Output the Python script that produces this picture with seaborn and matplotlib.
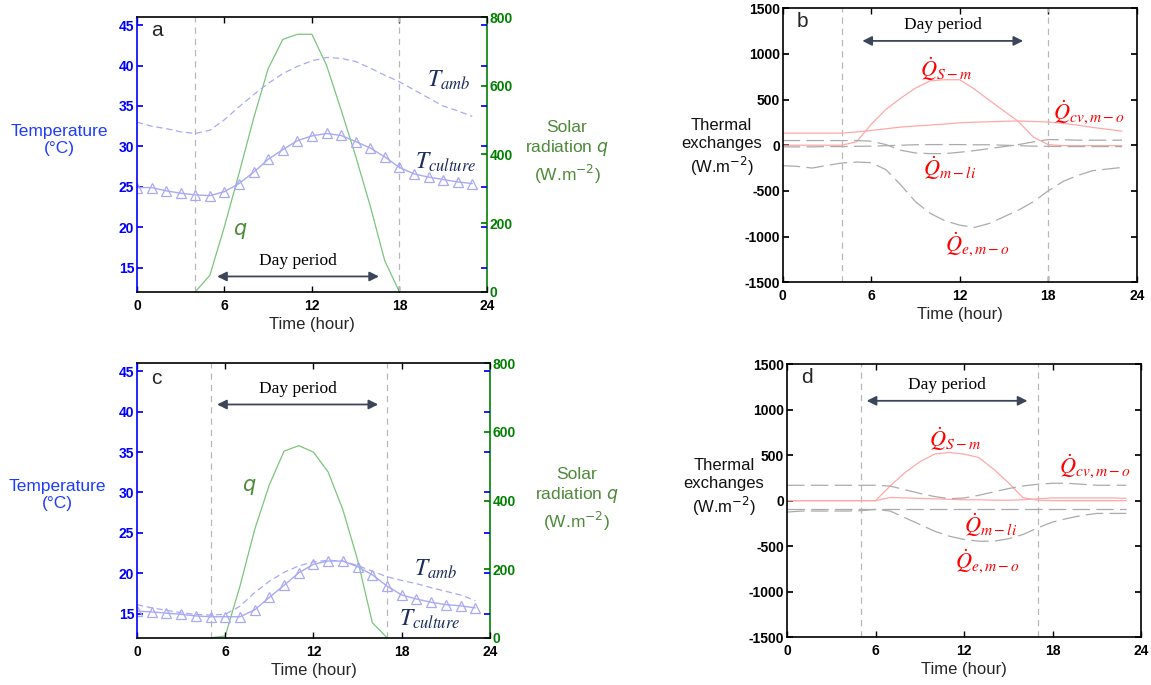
import numpy as np
import pandas as pd
import matplotlib
matplotlib.use("Agg")
import matplotlib.pyplot as plt
import seaborn as sns

# ---------------- data ----------------
hours = list(range(24))

# panel a (summer)
a_T_culture = [24.9, 24.9, 24.5, 24.2, 24.0, 23.9, 24.4, 25.4, 26.8, 28.4, 29.6, 30.7,
               31.3, 31.6, 31.35, 30.6, 29.8, 28.7, 27.4, 26.6, 26.2, 25.9, 25.6, 25.4]
a_T_amb = [33.0, 32.5, 32.2, 31.8, 31.6, 32.0, 33.3, 34.9, 36.4, 37.8, 39.0, 39.9,
           40.6, 41.0, 40.9, 40.5, 39.7, 38.8, 38.0, 37.0, 36.0, 35.0, 34.4, 33.7]
a_q_hours = [4, 5, 6, 7, 8, 9, 10, 11, 12, 13, 14, 15, 16, 17, 18]
a_q = [0, 48, 190, 345, 505, 650, 735, 750, 750, 660, 530, 395, 250, 90, 0]

# panel c (winter)
c_T_culture = [15.3, 15.2, 15.05, 14.9, 14.7, 14.6, 14.6, 14.6, 15.45, 17.0, 18.5, 20.05,
               21.1, 21.5, 21.5, 20.8, 19.8, 18.4, 17.3, 16.8, 16.4, 16.1, 15.95, 15.7]
c_T_amb = [16.1, 15.7, 15.4, 15.1, 14.9, 14.8, 14.9, 15.9, 17.6, 19.0, 20.1, 20.9,
           21.4, 21.6, 21.5, 20.95, 20.25, 19.55, 19.1, 18.7, 18.2, 17.75, 17.3, 16.6]
c_q_hours = [5, 6, 7, 8, 9, 10, 11, 12, 13, 14, 15, 16, 17]
c_q = [0, 5, 150, 315, 446, 544, 560, 541, 483, 373, 227, 44, 0]

# panel b (summer thermal exchanges)
b_Q_Sm = [0, 0, 0, 0, 0, 37, 228, 393, 515, 625, 706, 717,
          717, 614, 493, 375, 257, 88, 7, -5, -5, -5, -5, -5]
b_Q_cv = [132, 132, 132, 132, 132, 145, 162, 180, 199, 210, 221, 232,
          246, 252, 257, 262, 265, 260, 254, 240, 220, 195, 175, 154]
b_Q_mli = [51, 51, 51, 51, 51, 51, 44, 7, -55, -85, -92, -92,
           -77, -59, -37, -15, 7, 37, 62, 60, 55, 55, 55, 55]
b_Q_other = [-18, -18, -18, -15, -15, -12, -10, -5, 0, 5, 7, 7,
             7, 5, 5, 0, -5, -10, -12, -15, -15, -15, -15, -15]
b_Q_emo = [-224, -232, -250, -221, -195, -184, -191, -268, -434, -618, -746, -827,
           -875, -900, -857, -783, -710, -618, -500, -397, -331, -279, -261, -243]

# panel d (winter thermal exchanges)
d_Q_Sm = [0, 0, 0, 0, 0, 0, 0, 162, 309, 426, 511, 529,
          511, 474, 346, 199, 33, 5, 0, 0, 0, 0, 0, 0]
d_Q_cv = [0, 0, 0, 0, 0, 0, 0, 35, 30, 25, 20, 15,
          10, 10, 5, 5, 10, 20, 30, 30, 30, 30, 30, 25]
d_Q_upper = [169, 169, 169, 169, 169, 169, 169, 160, 120, 80, 45, 22,
             29, 59, 96, 132, 162, 180, 191, 191, 180, 169, 169, 169]
d_Q_mli = [-88] * 24
d_Q_emo = [-125, -114, -114, -114, -114, -110, -96, -114, -188, -261, -335, -390,
           -426, -445, -445, -419, -371, -298, -235, -195, -162, -140, -140, -140]

temp_ticks = [15, 20, 25, 30, 35, 40, 45]
q_ticks = [0, 200, 400, 600, 800]
x_ticks = [0, 6, 12, 18, 24]
flux_ticks = [-1500, -1000, -500, 0, 500, 1000, 1500]

# ---------------- style ----------------
sns.set_theme(style="white")
plt.rcParams['font.family'] = ['Liberation Sans', 'DejaVu Sans']
plt.rcParams['mathtext.fontset'] = 'stix'
plt.rcParams['axes.unicode_minus'] = False

BLUE = '#0000ff'
GREEN = '#008000'
LINE_BLUE = '#a9a9f5'
Q_GREEN = '#7cc47c'
PINK = '#ffa8a8'
GRAY = '#ababab'
NAVY = '#1c2d5e'
OLIVE = '#4e8a3a'
ARROW = '#3c4658'

fig = plt.figure(figsize=(11.51, 6.85), dpi=100)

pos = {
    'a': [0.119, 0.574, 0.304, 0.401],
    'b': [0.680, 0.588, 0.3076, 0.400],
    'c': [0.119, 0.069, 0.3067, 0.4006],
    'd': [0.6838, 0.0696, 0.3075, 0.399],
}


def style_x(ax):
    ax.set_xlim(0, 24)
    ax.set_xticks(x_ticks)
    ax.tick_params(axis='x', direction='in', length=4, width=1, top=True, bottom=True,
                   labelsize=10, pad=5, colors='black')
    for lbl in ax.get_xticklabels():
        lbl.set_fontweight('bold')
    ax.set_xlabel('Time (hour)', fontsize=12, labelpad=3)


def day_arrow(ax, x0, x1, y, ty):
    ax.annotate('', xy=(x0, y), xytext=(x1, y),
                arrowprops=dict(arrowstyle='<|-|>', color=ARROW, lw=1.3,
                                mutation_scale=14, shrinkA=0, shrinkB=0))
    ax.text((x0 + x1) / 2, ty, 'Day period', ha='center', va='center',
            fontsize=12.5, family='Liberation Serif', color='black')


def temp_panel(key, T_cult, T_amb, qh, q, vlines, arrow, labels):
    ax = fig.add_axes(pos[key])
    ax2 = ax.twinx()
    ax.set_zorder(ax2.get_zorder() + 1)
    ax.patch.set_visible(False)

    sns.lineplot(x=qh, y=q, ax=ax2, color=Q_GREEN, lw=0.9)
    ax2.set_ylim(0, 800)
    ax2.set_yticks(q_ticks)
    ax2.tick_params(axis='y', direction='in', length=4, colors=GREEN, labelsize=10, pad=2)
    for lbl in ax2.get_yticklabels():
        lbl.set_fontweight('bold')
    ax2.set_ylabel('')

    for v in vlines:
        ax.axvline(v, color='#b8b8b8', ls=(0, (5, 4)), lw=0.9)
    sns.lineplot(x=hours, y=T_amb, ax=ax, color=LINE_BLUE, lw=0.9, linestyle=(0, (5, 3)))
    sns.lineplot(x=hours, y=T_cult, ax=ax, color=LINE_BLUE, lw=1.0, marker='^',
                 markersize=7, markerfacecolor='none', markeredgecolor=LINE_BLUE,
                 markeredgewidth=0.9)
    ax.set_ylim(12, 46)
    ax.set_yticks(temp_ticks)
    ax.tick_params(axis='y', direction='in', length=4, colors=BLUE, labelsize=10,
                   left=True, right=True, pad=2)
    for lbl in ax.get_yticklabels():
        lbl.set_fontweight('bold')
    ax.set_ylabel('')
    style_x(ax)

    for sp in ['top', 'bottom']:
        ax.spines[sp].set_color('black')
        ax.spines[sp].set_linewidth(1.2)
    ax.spines['left'].set_color(BLUE)
    ax.spines['left'].set_linewidth(1.2)
    ax.spines['right'].set_visible(False)
    ax2.spines['right'].set_color(GREEN)
    ax2.spines['right'].set_linewidth(1.2)
    for sp in ['left', 'top', 'bottom']:
        ax2.spines[sp].set_visible(False)

    day_arrow(ax, *arrow)
    ax.text(0.04, 0.95 if key == 'a' else 0.945, key, transform=ax.transAxes,
            fontsize=15, ha='left', va='center')
    (xa, ya), (xc, yc), (xq, yq) = labels
    ax.text(xa, ya, r'$T_{amb}$', color=NAVY, fontsize=17, ha='center', va='center')
    ax.text(xc, yc, r'$T_{culture}$', color=NAVY, fontsize=17, ha='center', va='center')
    ax.text(xq, yq, r'$q$', color=OLIVE, fontsize=15, ha='center', va='center',
            math_fontfamily='dejavusans')
    return ax


def flux_panel(key, series, vlines, arrow, labels):
    ax = fig.add_axes(pos[key])
    for v in vlines:
        ax.axvline(v, color='#b8b8b8', ls=(0, (5, 4)), lw=0.9)
    for vals, kind in series:
        if kind == 'pink':
            sns.lineplot(x=hours, y=vals, ax=ax, color=PINK, lw=0.9)
        else:
            sns.lineplot(x=hours, y=vals, ax=ax, color=GRAY, lw=0.9,
                         linestyle=(0, (14, 5)))
    ax.set_ylim(-1500, 1500)
    ax.set_yticks(flux_ticks)
    ax.tick_params(axis='y', direction='in', length=4, colors='black', labelsize=10,
                   left=True, right=True, pad=2)
    for lbl in ax.get_yticklabels():
        lbl.set_fontweight('bold')
    ax.set_ylabel('')
    style_x(ax)
    for sp in ax.spines.values():
        sp.set_color('black')
        sp.set_linewidth(1.2)
    day_arrow(ax, *arrow)
    ax.text(0.04, 0.95, key, transform=ax.transAxes, fontsize=15, ha='left', va='center')
    texts = [r'$\dot{Q}_{S-m}$', r'$\dot{Q}_{cv,m-o}$', r'$\dot{Q}_{m-li}$', r'$\dot{Q}_{e,m-o}$']
    for t, (x, y) in zip(texts, labels):
        ax.text(x, y, t, color='red', fontsize=16, ha='center', va='center')
    return ax


temp_panel('a', a_T_culture, a_T_amb, a_q_hours, a_q, [4, 18],
           (5.5, 16.6, 13.9, 15.8),
           [(21.4, 38.2), (21.2, 28.0), (7.05, 19.5)])
temp_panel('c', c_T_culture, c_T_amb, c_q_hours, c_q, [5, 17],
           (5.45, 16.4, 40.9, 42.8),
           [(20.3, 20.5), (19.9, 14.3), (7.6, 30.7)])

flux_panel('b', [(b_Q_Sm, 'pink'), (b_Q_cv, 'pink'), (b_Q_mli, 'gray'),
                 (b_Q_other, 'gray'), (b_Q_emo, 'gray')], [4, 18],
           (5.4, 16.3, 1142, 1314),
           [(11.1, 830), (20.8, 360), (11.3, -250), (13.2, -1095)])
flux_panel('d', [(d_Q_Sm, 'pink'), (d_Q_cv, 'pink'), (d_Q_upper, 'gray'),
                 (d_Q_mli, 'gray'), (d_Q_emo, 'gray')], [5, 17],
           (5.4, 16.3, 1096, 1265),
           [(11.4, 680), (20.9, 370), (13.8, -262), (13.6, -670)])

# axis titles as figure text
fig.text(0.052, 0.796, 'Temperature\n(°C)', color='#1e3cff', fontsize=12.5,
         ha='center', va='center', linespacing=1.2)
fig.text(0.050, 0.277, 'Temperature\n(°C)', color='#1e3cff', fontsize=12.5,
         ha='center', va='center', linespacing=1.2)
fig.text(0.4926, 0.7766, 'Solar\nradiation $q$\n(W.m$^{-2}$)', color=OLIVE, fontsize=12.5,
         ha='center', va='center', linespacing=1.25, math_fontfamily='dejavusans')
fig.text(0.501, 0.270, 'Solar\nradiation $q$\n(W.m$^{-2}$)', color=OLIVE, fontsize=12.5,
         ha='center', va='center', linespacing=1.25, math_fontfamily='dejavusans')
fig.text(0.627, 0.784, 'Thermal\nexchanges\n(W.m$^{-2}$)', color='#111111', fontsize=12,
         ha='center', va='center', linespacing=1.2, math_fontfamily='dejavusans')
fig.text(0.629, 0.2876, 'Thermal\nexchanges\n(W.m$^{-2}$)', color='#111111', fontsize=12,
         ha='center', va='center', linespacing=1.2, math_fontfamily='dejavusans')

fig.savefig('out.png', dpi=100)
